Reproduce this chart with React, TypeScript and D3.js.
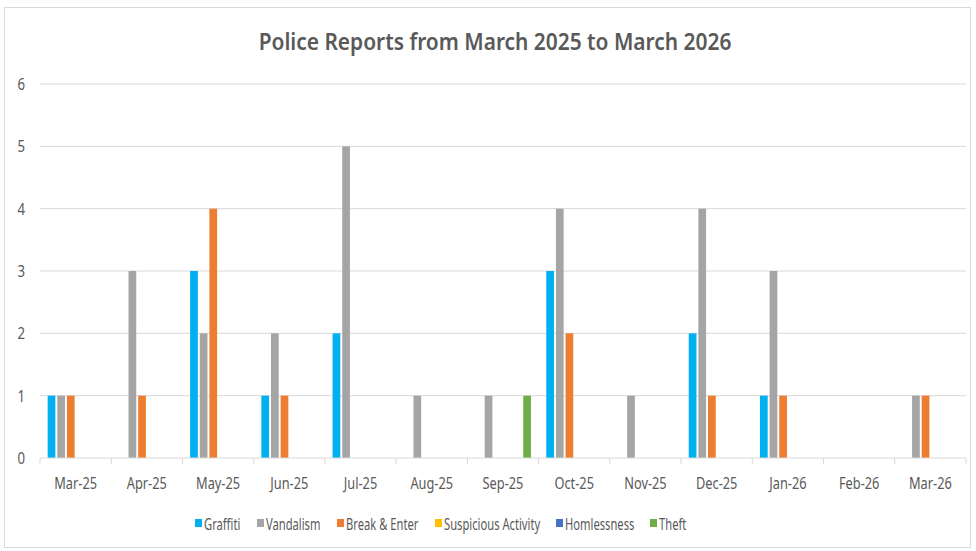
import React from "react";
import * as d3 from "d3";

const categories = ["Mar-25","Apr-25","May-25","Jun-25","Jul-25","Aug-25","Sep-25","Oct-25","Nov-25","Dec-25","Jan-26","Feb-26","Mar-26"];
const seriesNames = ["Graffiti","Vandalism","Break & Enter","Suspicious Activity","Homlessness","Theft"];
const graffiti = [1,0,3,1,2,0,0,3,0,2,1,0,0];
const vandalism = [1,3,2,2,5,1,1,4,1,4,3,0,1];
const breakEnter = [1,1,4,1,0,0,0,2,0,1,1,0,1];
const suspicious = [0,0,0,0,0,0,0,0,0,0,0,0,0];
const homlessness = [0,0,0,0,0,0,0,0,0,0,0,0,0];
const theft = [0,0,0,0,0,0,1,0,0,0,0,0,0];
const yTicks = [0,1,2,3,4,5,6];
const colors = ["#00B0F0","#A5A5A5","#ED7D31","#FFC000","#4472C4","#70AD47"];
const title = "Police Reports from March 2025 to March 2026";

const seriesValues = [graffiti, vandalism, breakEnter, suspicious, homlessness, theft];

export default function App() {
  const W = 976, H = 551;
  const left = 40, right = 966, top = 84, bottom = 458;
  const x0 = d3.scaleBand<string>().domain(categories).range([left, right]).padding(0);
  const x1 = d3.scaleBand<string>().domain(seriesNames).range([6.7, x0.bandwidth() - 6.7]).paddingInner(0.2).paddingOuter(0.1);
  const y = d3.scaleLinear().domain([0, 6]).range([bottom, top]);
  const font = "'Noto Sans', sans-serif";
  const legendX = [195, 257, 337, 435, 556, 650];
  const sx = 0.8;
  return (
    <svg width={W} height={H} style={{ position: "absolute", left: 0, top: 0 }} fontFamily={font}>
      <rect x={0} y={0} width={W} height={H} fill="#fff" />
      <rect x={4.5} y={7.5} width={966} height={540} fill="#fff" stroke="#d9d9d9" />
      <text transform={`translate(495,50) scale(0.91,1)`} textAnchor="middle" fontSize={23} fontWeight={600} fill="#595959">{title}</text>
      {yTicks.map(t => (
        <g key={t}>
          {t > 0 && <line x1={left} x2={right} y1={y(t)} y2={y(t)} stroke="#d9d9d9" strokeWidth={1} />}
          <text transform={`translate(25,${y(t) + 6}) scale(${sx},1)`} textAnchor="end" fontSize={16.5} fill="#595959">{t}</text>
        </g>
      ))}
      {categories.map((c, i) => (
        <g key={c} transform={`translate(${x0(c)},0)`}>
          {seriesNames.map((s, j) => {
            const v = seriesValues[j][i];
            if (!v) return null;
            return <rect key={s} x={x1(s)} y={y(v)} width={x1.bandwidth()} height={y(0) - y(v)} fill={colors[j]} />;
          })}
          <text transform={`translate(${x0.bandwidth() / 2},489) scale(${sx},1)`} textAnchor="middle" fontSize={16} fill="#595959">{c}</text>
        </g>
      ))}
      <line x1={left} x2={right} y1={bottom} y2={bottom} stroke="#d9d9d9" />
      {[...categories.map(c => x0(c) as number), right].map((xv, i) => (
        <line key={i} x1={xv} x2={xv} y1={bottom} y2={bottom + 6} stroke="#d9d9d9" />
      ))}
      {seriesNames.map((s, j) => (
        <g key={s}>
          <rect x={legendX[j]} y={519} width={7} height={8} fill={colors[j]} />
          <text transform={`translate(${legendX[j] + 9},529.5) scale(0.7,1)`} fontSize={16} fill="#595959">{s}</text>
        </g>
      ))}
    </svg>
  );
}
